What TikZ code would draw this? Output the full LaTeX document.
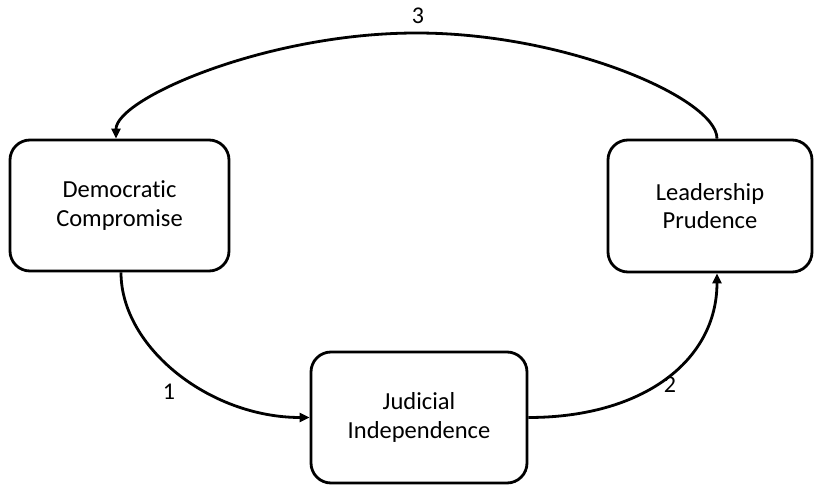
\documentclass[tikz,border=0pt]{standalone}
\usepackage{fontspec}
\setmainfont{Carlito}[Ligatures={NoCommon}]
\usetikzlibrary{arrows.meta}
\begin{document}
\begin{tikzpicture}[x=1pt,y=-1pt,
  box/.style={draw=black, line width=2.8pt, rounded corners=20pt, inner sep=0pt,
    align=center, font=\fontsize{24.5}{28.5}\selectfont, fill=white},
  lbl/.style={font=\fontsize{24}{28}\selectfont, inner sep=0pt},
  arr/.style={line width=2.8pt, -{Triangle[length=10pt,width=9pt]}}]
\useasboundingbox (0,0) rectangle (815,487);
\node[box, minimum width=219pt, minimum height=131pt] (dc) at (119.5,205.5) {Democratic\\Compromise};
\node[box, minimum width=204pt, minimum height=132pt] (lp) at (710,206) {Leadership\\Prudence};
\node[box, minimum width=216pt, minimum height=131pt] (ji) at (419,417.5) {Judicial\\Independence};
\coordinate (p3) at (416.5,33);
\draw[arr] ([xshift=1.5pt]dc.south) .. controls +(0,75) and +(-100,0) .. (ji.west);
\draw[arr] (ji.east) .. controls +(115,0) and +(0,87) .. ([xshift=7pt]lp.south);
\draw[arr] ([xshift=7pt]lp.north) .. controls +(0,-40) and +(150,0) .. (p3)
  .. controls +(-150,0) and +(0,-40) .. ([xshift=-3.5pt]dc.north);
\node[lbl] (l1) at (169,392) {1};
\node[lbl] (l2) at (670,385) {2};
\node[lbl] (l3) at (418,16) {3};
\end{tikzpicture}
\end{document}
